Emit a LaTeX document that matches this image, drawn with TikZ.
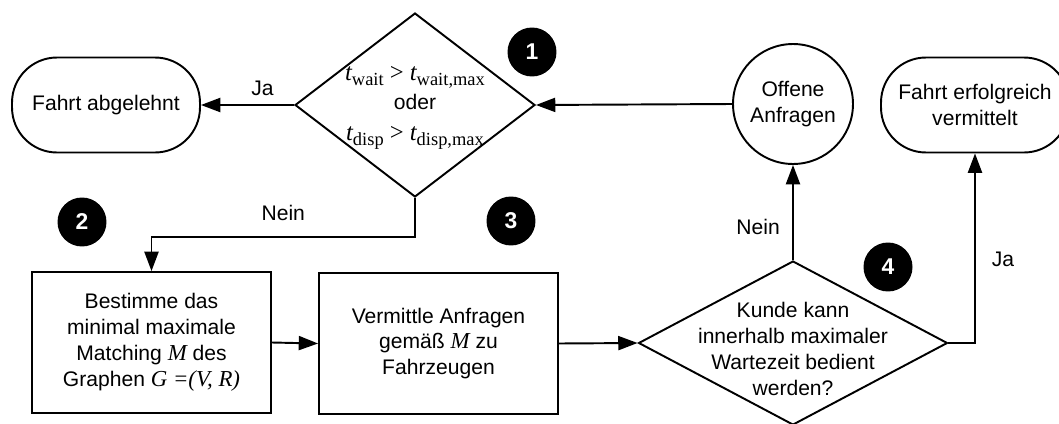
\documentclass[tikz,border=0pt]{standalone}
\usepackage{fontspec}
\setmainfont{Liberation Sans}
\newfontfamily\tms{Liberation Serif}
\usetikzlibrary{arrows.meta,shapes.geometric}

% t with an upright subscript, set in a Times-like serif
\newcommand\tvar[1]{{\tms\fontsize{14}{14}\selectfont\itshape t}\raisebox{-0.45ex}{\tms\fontsize{10.5}{10.5}\selectfont #1}}
\newcommand\ivar[1]{{\tms\fontsize{13}{13}\selectfont\itshape #1}}
\newcommand\gtsign{{\tms\fontsize{14}{14}\selectfont\ >\ }}

\begin{document}
\begin{tikzpicture}[x=0.02cm,y=-0.02cm,
  every node/.style={font=\fontsize{12}{14.7}\selectfont},
  line/.style={line width=1.1pt},
  arr/.style={line, -{Triangle[length=11pt,width=8pt]}},
  terminal/.style={draw, line width=1.1pt, rounded corners=0.9cm,
    minimum width=3.76cm, minimum height=1.9cm, align=center, inner sep=0pt},
  process/.style={draw, line width=1.1pt, minimum width=4.78cm,
    minimum height=2.82cm, align=center, inner sep=0pt},
  decision/.style={draw, diamond, line width=1.1pt, inner sep=0pt},
  state/.style={draw, circle, line width=1.1pt, minimum size=2.4cm,
    align=center, inner sep=0pt},
  badge/.style={circle, fill=black, minimum size=0.98cm, inner sep=0pt,
    text=white, font=\fontsize{13}{13}\selectfont\bfseries},
  lbl/.style={inner sep=1pt}]

\useasboundingbox (0,0) rectangle (1059,423);
\clip (0,0) rectangle (1059,423);

% nodes
\node[terminal] (rej) at (106,105) {Fahrt abgelehnt};
\node[decision, minimum width=4.8cm, minimum height=3.68cm] (d1) at (415,105) {};
\node[align=center, inner sep=0pt] (d1t) at (415,108)
  {\tvar{wait}\gtsign\tvar{wait,max}\\[2pt]
   oder\\[3pt]
   \tvar{disp}\gtsign\tvar{disp,max}};
\node[state] (open) at (793,104) {Offene\\Anfragen};
\node[terminal] (ok) at (975,105) {Fahrt erfolgreich\\vermittelt};

\node[process] (b2) at (151.5,342.5)
  {Bestimme das\\minimal maximale\\Matching \ivar{M} des\\Graphen \ivar{G =(V, R)}};
\node[process] (b3) at (438.5,343.5)
  {Vermittle Anfragen\\gemäß \ivar{M} zu\\Fahrzeugen};
\node[decision, minimum width=6.18cm, minimum height=3.28cm] (d4) at (793,343) {};
\node[align=center, inner sep=0pt] (d4t) at (793,349)
  {Kunde kann\\innerhalb maximaler\\Wartezeit bedient\\werden?};

% numbered markers
\node[badge] (n1) at (532,52) {1};
\node[badge] (n2) at (82,222) {2};
\node[badge] (n3) at (511,221) {3};
\node[badge] (n4) at (888,267) {4};

% connectors
\draw[arr] (d1.west) -- node[lbl, pos=0.34, above=4pt] {Ja} (rej.east);
\draw[arr] (open.west) -- (d1.east);
\coordinate (k1) at (415,237);
\draw[arr] (d1.south) -- (k1) -| node[lbl, pos=0.25, above=8pt] {Nein} (b2.north);
\draw[arr] (b2.east) -- (b3.west);
\draw[arr] (b3.east) -- (d4.west);
\draw[arr] (d4.north) -- node[lbl, pos=0.35, left=6pt] {Nein} (open.south);
\draw[arr] (d4.east) -| node[lbl, pos=0.72, right=8pt] {Ja} (ok.south);

\end{tikzpicture}
\end{document}
